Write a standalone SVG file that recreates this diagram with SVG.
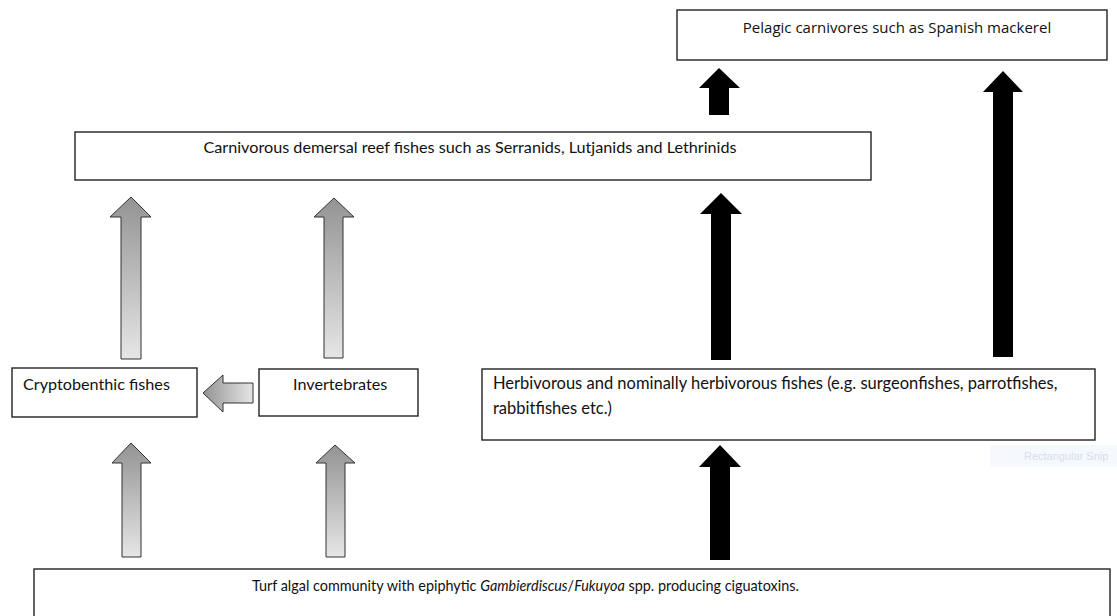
<svg xmlns="http://www.w3.org/2000/svg" width="1117" height="616" viewBox="0 0 1117 616">
<style>
.box{fill:#fff;stroke:#222;stroke-width:1.4}
.t{font-family:Lato,"Liberation Sans",sans-serif;font-size:16.2px;fill:#111}
.t2{font-family:"Open Sans","Liberation Sans",sans-serif;font-size:15px;fill:#111}
.ga{fill:url(#gv);stroke:#333;stroke-width:1}
.gh{fill:url(#gh);stroke:#333;stroke-width:1}
.ba{fill:#000}
</style>
<defs>
<linearGradient id="gv" x1="0" y1="0" x2="0" y2="1">
<stop offset="0" stop-color="#939393"/>
<stop offset="1" stop-color="#e6e6e6"/>
</linearGradient>
<linearGradient id="gh" x1="0" y1="0" x2="1" y2="0">
<stop offset="0" stop-color="#939393"/>
<stop offset="1" stop-color="#e6e6e6"/>
</linearGradient>
</defs>
<rect width="1117" height="616" fill="#fff"/>
<g id="connectors">
<path class="ba" d="M719,68 L740,88 L729,88 L729,115 L709,115 L709,88 L699,88 Z"/>
<path class="ba" d="M1003,71 L1023,92 L1013,92 L1013,357 L993,357 L993,92 L983,92 Z"/>
<path class="ba" d="M721,193 L742,214 L731,214 L731,360 L711,360 L711,214 L700,214 Z"/>
<path class="ba" d="M720,445 L741,467 L730,467 L730,560 L710,560 L710,467 L699,467 Z"/>
<path class="ga" d="M131,197 L151,217 L141,217 L141,359 L121,359 L121,217 L110,217 Z"/>
<path class="ga" d="M334,198 L354,217 L343,217 L343,358 L324,358 L324,217 L314,217 Z"/>
<path class="ga" d="M131,443 L151,463 L141,463 L141,557 L122,557 L122,463 L112,463 Z"/>
<path class="ga" d="M335,445 L355,463 L345,463 L345,557 L326,557 L326,463 L316,463 Z"/>
<path class="gh" d="M203,393 L223,375 L223,383 L253,383 L253,403 L223,403 L223,412 Z"/>
</g>
<g id="pelagic">
<rect class="box" x="677" y="10" width="430" height="50"/>
<text class="t2" x="897" y="33" text-anchor="middle">Pelagic carnivores such as Spanish mackerel</text>
</g>
<g id="carnivorous">
<rect class="box" x="75" y="132" width="796" height="48"/>
<text class="t" x="470" y="153" text-anchor="middle">Carnivorous demersal reef fishes such as Serranids, Lutjanids and Lethrinids</text>
</g>
<g id="cryptobenthic">
<rect class="box" x="12" y="368" width="185" height="49"/>
<text class="t" x="23" y="390">Cryptobenthic fishes</text>
</g>
<g id="invertebrates">
<rect class="box" x="259" y="369" width="159" height="47"/>
<text class="t" x="293" y="390">Invertebrates</text>
</g>
<g id="herbivorous">
<rect class="box" x="482" y="369" width="613" height="71"/>
<text class="t" x="493" y="389" style="font-size:16.5px">Herbivorous and nominally herbivorous fishes (e.g. surgeonfishes, parrotfishes,</text>
<text class="t" x="493" y="414" style="font-size:16.5px">rabbitfishes etc.)</text>
</g>
<g id="turf">
<rect class="box" x="34" y="569" width="1076" height="60"/>
<text class="t" x="252" y="591" style="font-size:14.4px">Turf algal community with epiphytic <tspan font-style="italic">Gambierdiscus</tspan>/<tspan font-style="italic">Fukuyoa</tspan> spp. producing ciguatoxins.</text>
</g>
<g id="watermark" opacity="0.55">
<rect x="990" y="445" width="127" height="22" fill="#eef3fb"/>
<text x="1024" y="460" font-family="'Liberation Sans',sans-serif" font-size="11" fill="#b3c4de">Rectangular Snip</text>
</g>
</svg>
